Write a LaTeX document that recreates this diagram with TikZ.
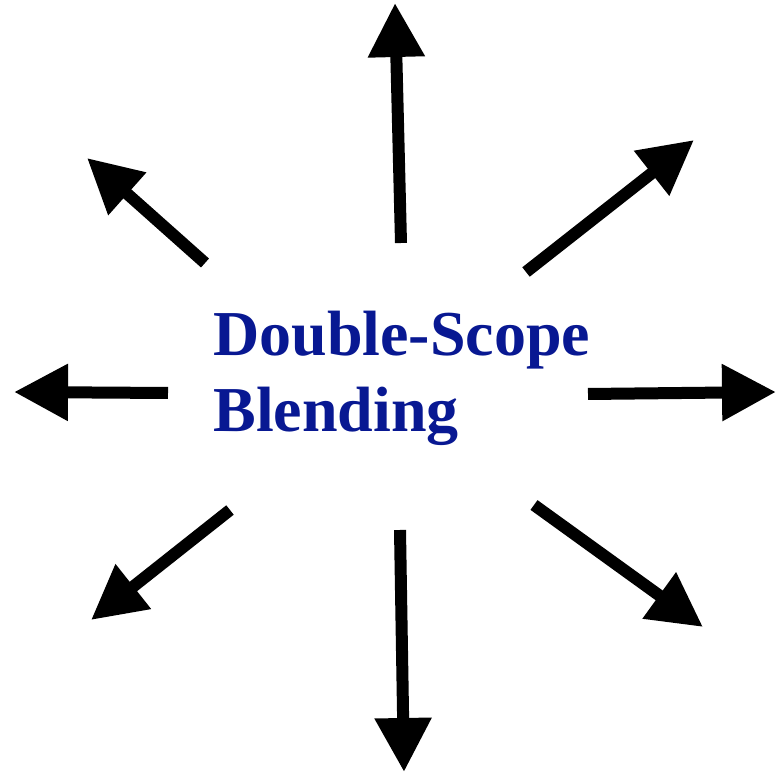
\documentclass[tikz,border=0pt]{standalone}
\usepackage{fontspec}
\setmainfont{Liberation Serif}
\usepackage{xcolor}
\usetikzlibrary{arrows.meta,positioning}

\definecolor{blendblue}{RGB}{8,24,146}

\begin{document}
\begin{tikzpicture}[
    x=0.5pt, y=-0.5pt,
    label/.style={align=left, inner sep=0pt, text=blendblue, font=\bfseries\fontsize{32}{38}\selectfont},
    ray/.style={-{Triangle[length=27pt, width=27pt]}, line width=6pt}
]
\useasboundingbox (0,0) rectangle (777,774);

\node[label, anchor=base west] (title) at (213,432) {Double-Scope\\Blending};

% start and tip of every ray
\coordinate (nS) at (401,243);  \coordinate (nT) at (395,3);
\coordinate (neS) at (526,272); \coordinate (neT) at (694,140);
\coordinate (nwS) at (205,263); \coordinate (nwT) at (87,158);
\coordinate (wS) at (168,393);  \coordinate (wT) at (14,392);
\coordinate (eS) at (588,394);  \coordinate (eT) at (776,392);
\coordinate (swS) at (230,510); \coordinate (swT) at (91,620);
\coordinate (sS) at (400,530);  \coordinate (sT) at (404,772);
\coordinate (seS) at (534,505); \coordinate (seT) at (703,627);

\draw[ray] (nS) -- (nT);
\draw[ray] (neS) -- (neT);
\draw[ray] (nwS) -- (nwT);
\draw[ray] (wS) -- (wT);
\draw[ray] (eS) -- (eT);
\draw[ray] (swS) -- (swT);
\draw[ray] (sS) -- (sT);
\draw[ray] (seS) -- (seT);
\end{tikzpicture}
\end{document}
